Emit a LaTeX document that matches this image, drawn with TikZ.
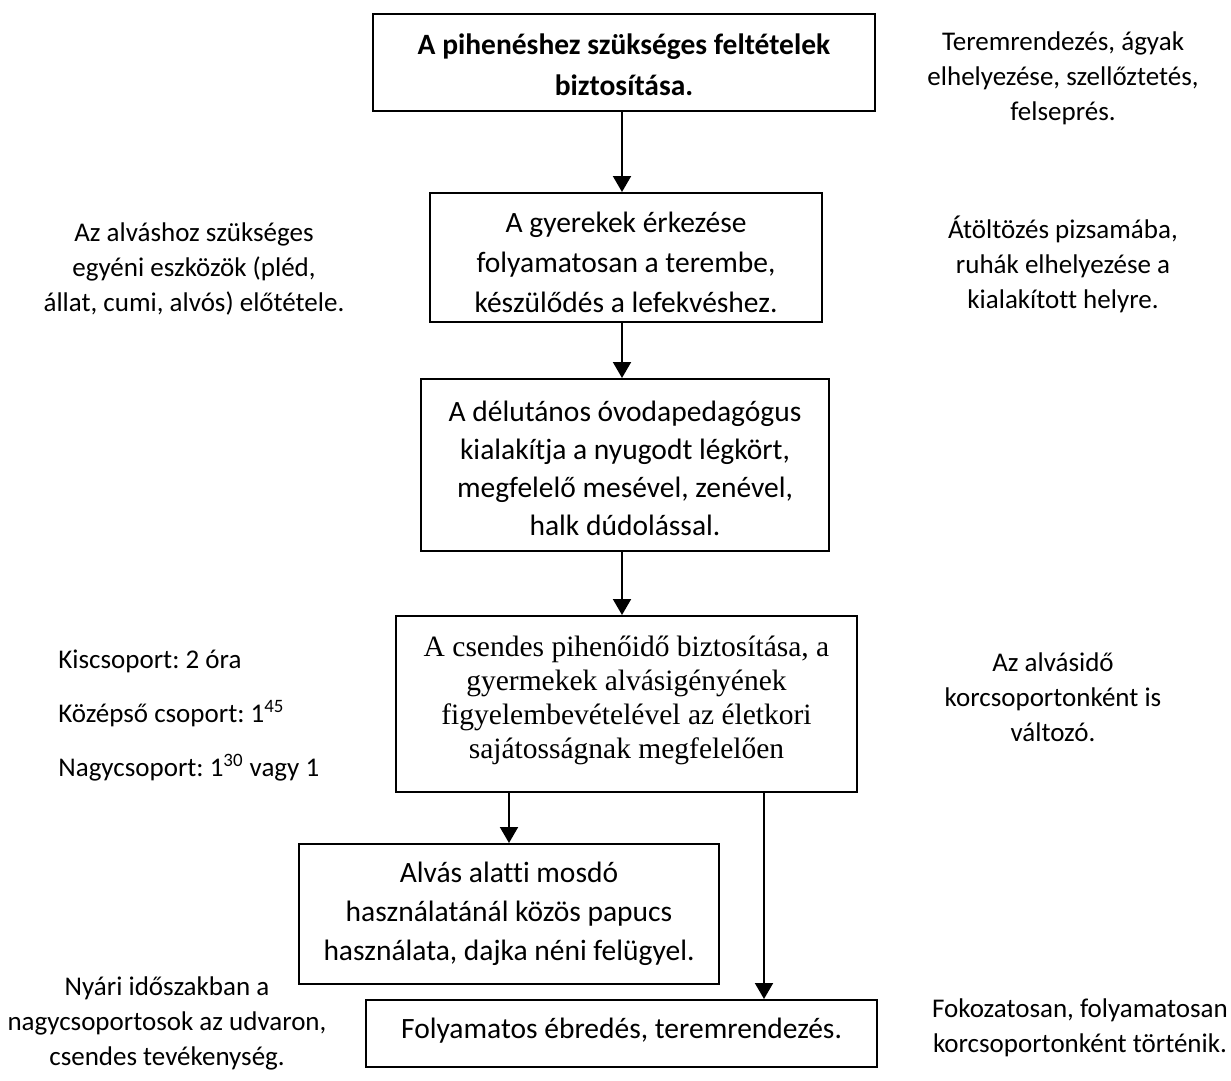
\documentclass[tikz,border=0pt]{standalone}
\usepackage{fontspec}
\setmainfont[Ligatures=NoCommon]{Carlito}
\newfontfamily\tnr{Liberation Serif}
\usetikzlibrary{arrows.meta}
\frenchspacing
\begin{document}
\begin{tikzpicture}[x=0.5pt,y=-0.5pt,
  box/.style={draw,line width=1pt,inner sep=0pt},
  btext/.style={inner sep=0pt,align=center,font=\frenchspacing\fontsize{14.75}{20}\selectfont},
  side/.style={inner sep=0pt,align=center,font=\frenchspacing\fontsize{13.5}{17.5}\selectfont},
  arr/.style={line width=1pt,-{Triangle[width=9pt,length=8pt]}}]
\useasboundingbox (0,0) rectangle (1231,1081);
% boxes
\node[box,minimum width=251pt,minimum height=48.5pt] (A) at (624,62.5) {};
\node[box,minimum width=196pt,minimum height=64.5pt] (B) at (626,257.5) {};
\node[box,minimum width=204pt,minimum height=86pt] (C) at (625,465) {};
\node[box,minimum width=230.5pt,minimum height=88pt] (D) at (626.5,704) {};
\node[box,minimum width=210pt,minimum height=70pt] (E) at (509,914) {};
\node[box,minimum width=255.5pt,minimum height=33.5pt] (F) at (621.5,1033.5) {};
% box texts
\node[btext,font=\frenchspacing\fontsize{14.75}{20.5}\selectfont\bfseries] (At) at (624,65)
  {A pihenéshez szükséges feltételek\\biztosítása.};
\node[btext] (Bt) at (626,262.5)
  {A gyerekek érkezése\\folyamatosan a terembe,\\készülődés a lefekvéshez.};
\node[btext,font=\frenchspacing\fontsize{14.75}{19}\selectfont] (Ct) at (625,468)
  {A délutános óvodapedagógus\\kialakítja a nyugodt légkört,\\megfelelő mesével, zenével,\\halk dúdolással.};
\node[btext,font=\frenchspacing\fontsize{14.75}{17}\selectfont\tnr] (Dt) at (626.5,700)
  {A csendes pihenőidő biztosítása, a\\gyermekek alvásigényének\\figyelembevételével az életkori\\sajátosságnak megfelelően};
\node[btext,font=\frenchspacing\fontsize{14.75}{19.5}\selectfont] (Et) at (509,914)
  {Alvás alatti mosdó\\használatánál közös papucs\\használata, dajka néni felügyel.};
\node[btext] (Ft) at (621.5,1031) {Folyamatos ébredés, teremrendezés.};
% side notes
\node[side] (tr) at (1063,78) {Teremrendezés, ágyak\\elhelyezése, szellőztetés,\\felseprés.};
\node[side] (l1) at (194,269) {Az alváshoz szükséges\\egyéni eszközök (pléd,\\állat, cumi, alvós) előtétele.};
\node[side] (r1) at (1063,264) {Átöltözés pizsamába,\\ruhák elhelyezése a\\kialakított helyre.};
\node[side,align=left,anchor=west,font=\frenchspacing\fontsize{13.5}{27}\selectfont] (l2) at (58,716)
  {Kiscsoport: 2 óra\\Középső csoport: 1\textsuperscript{45}\\Nagycsoport: 1\textsuperscript{30} vagy 1};
\node[side] (r2) at (1053,697) {Az alvásidő\\korcsoportonként is\\változó.};
\node[side] (l3) at (167,1023) {Nyári időszakban a\\nagycsoportosok az udvaron,\\csendes tevékenység.};
\node[side] (r3) at (1080,1028) {Fokozatosan, folyamatosan\\korcsoportonként történik.};
% connectors
\draw[arr] ([xshift=-1pt]A.south) -- ([xshift=-1pt]A.south |- B.north);
\draw[arr] ([xshift=-2pt]B.south) -- ([xshift=-2pt]B.south |- C.north);
\draw[arr] ([xshift=-1.5pt]C.south) -- ([xshift=-1.5pt]C.south |- D.north);
\draw[arr] (E.north |- D.south) -- (E.north);
\draw[arr] ([xshift=68.75pt]D.south) -- ([xshift=68.75pt]D.south |- F.north);
\end{tikzpicture}
\end{document}
